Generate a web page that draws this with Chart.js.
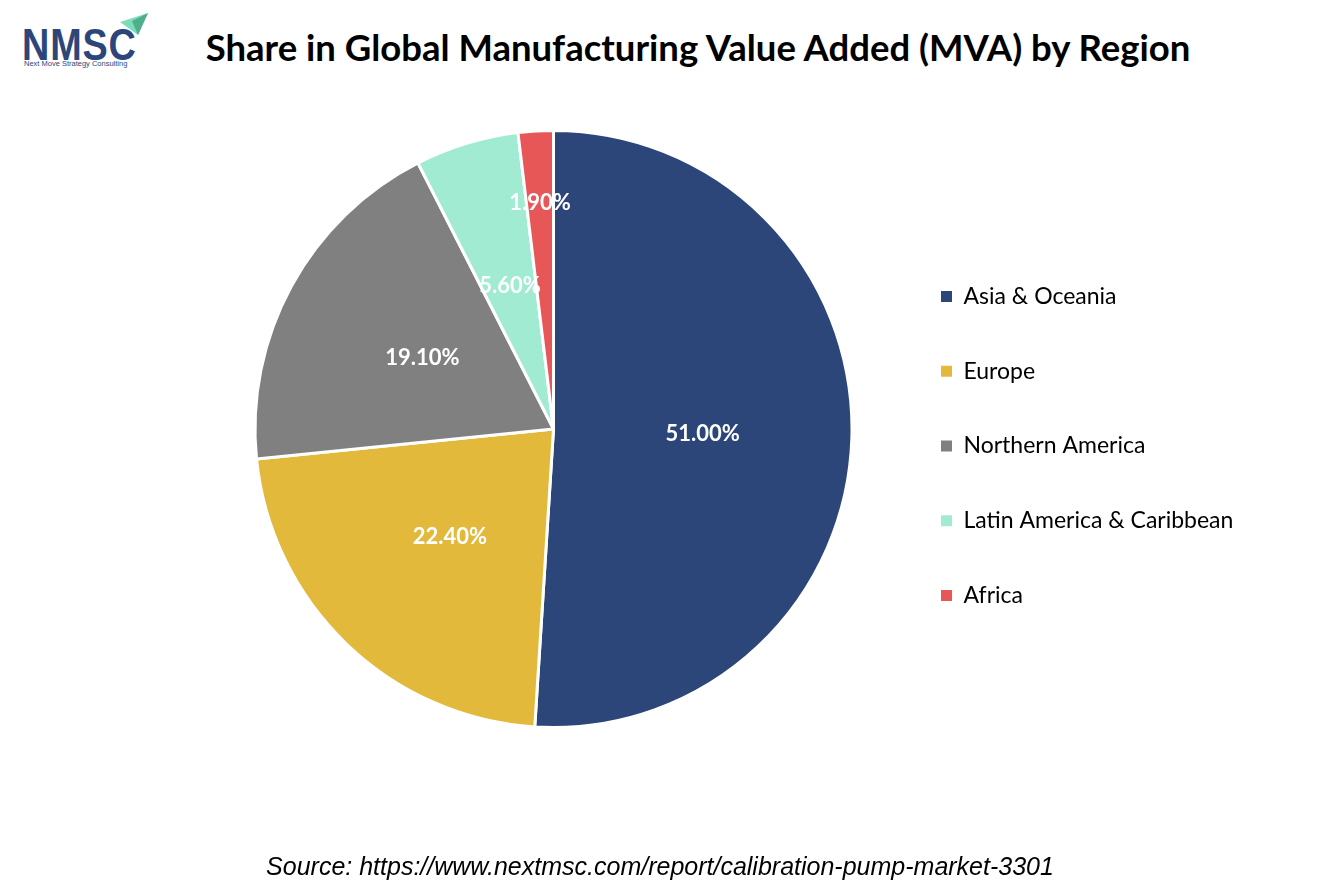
<!DOCTYPE html>
<html>
<head>
<meta charset="utf-8">
<script src="https://cdn.jsdelivr.net/npm/chart.js@4.4.1/dist/chart.umd.min.js"></script>
<style>
  html, body { margin: 0; padding: 0; background: #fff; }
  #page { position: relative; width: 1334px; height: 889px; overflow: hidden; }
  #chartBox { position: absolute; left: 0; top: 0; width: 1334px; height: 889px; }
  #title {
    position: absolute; left: 0; width: 1334px; top: 25px; text-align: center;
    font-family: Lato, sans-serif; font-weight: 700; font-size: 36.5px; color: #000;
    padding-left: 62px; box-sizing: border-box; white-space: nowrap;
  }
  #source {
    position: absolute; left: 0; width: 1320px; top: 852px; text-align: center;
    font-family: "Liberation Sans", Arial, sans-serif; font-style: italic; font-size: 25px; color: #000;
  }
  #logo { position: absolute; left: 20px; top: 10px; width: 140px; height: 60px; }
  #logo .mark {
    position: absolute; left: 2px; top: 12px; font-family: "Liberation Sans", Arial, sans-serif;
    font-weight: 700; font-size: 45px; line-height: 45px; color: #2c4679; letter-spacing: 1px;
    transform: scaleX(0.84); transform-origin: left top;
  }
  #logo .sub {
    position: absolute; left: 4px; top: 49px; font-family: "Liberation Sans", Arial, sans-serif;
    font-size: 7.5px; color: #2c4679; white-space: nowrap;
  }
  #logo svg { position: absolute; left: 0; top: 0; }
</style>
</head>
<body>
<div id="page">
  <div id="logo">
    <svg width="140" height="40">
      <polygon points="100,12 128,3 118,25" fill="#7fdcb9"/>
      <polygon points="112,11 128,3 118,25" fill="#4fae8c"/>
    </svg>
    <div class="mark">NMSC</div>
    <div class="sub">Next Move Strategy Consulting</div>
  </div>
  <div id="title">Share in Global Manufacturing Value Added (MVA) by Region</div>
  <div id="chartBox"><canvas id="mvaChart"></canvas></div>
  <div id="source">Source: https://www.nextmsc.com/report/calibration-pump-market-3301</div>
</div>
<script>
const regions = ['Asia & Oceania', 'Europe', 'Northern America', 'Latin America & Caribbean', 'Africa'];
const shares = [51.0, 22.4, 19.1, 5.6, 1.9];
const sliceColors = ['#2c4679', '#e2b93b', '#808080', '#a0ebd2', '#e85757'];

// where each percentage label sits, as a fraction of the radius
const labelRadius = [0.5, 0.5, 0.5, 0.5, 0.76];

const LEGEND_WIDTH = 444.75;

const legendSizer = {
    id: 'legendSizer',
    beforeInit(chart) {
        const legend = chart.legend;
        const origFit = legend.fit;
        legend.fit = function() {
            origFit.call(this);
            this.width = LEGEND_WIDTH;
        };
    },
    afterLayout(chart) {
        chart.legend.top += 17;
        chart.legend.bottom += 17;
    }
};

const sliceLabels = {
    id: 'sliceLabels',
    afterDatasetsDraw(chart) {
        const ctx = chart.ctx;
        const meta = chart.getDatasetMeta(0);
        ctx.save();
        ctx.font = '700 22px Lato, sans-serif';
        ctx.fillStyle = '#ffffff';
        ctx.textAlign = 'center';
        ctx.textBaseline = 'middle';
        meta.data.forEach((arc, i) => {
            const p = arc.getProps(['x', 'y', 'startAngle', 'endAngle', 'outerRadius'], true);
            const mid = (p.startAngle + p.endAngle) / 2;
            const r = p.outerRadius * labelRadius[i];
            ctx.fillText(shares[i].toFixed(2) + '%', p.x + Math.cos(mid) * r, p.y + Math.sin(mid) * r);
        });
        ctx.restore();
    }
};

document.addEventListener('DOMContentLoaded', function() {
    const ctx = document.getElementById('mvaChart').getContext('2d');

    new Chart(ctx, {
        type: 'pie',
        data: {
            labels: regions,
            datasets: [{
                data: shares,
                backgroundColor: sliceColors,
                borderColor: '#ffffff',
                borderWidth: 3
            }]
        },
        options: {
            responsive: true,
            maintainAspectRatio: false,
            animation: false,
            radius: 298.5,
            layout: {
                padding: { left: 217.75, right: 0, top: 129, bottom: 160 }
            },
            plugins: {
                tooltip: { enabled: false },
                legend: {
                    position: 'right',
                    labels: {
                        boxWidth: 11,
                        boxHeight: 11,
                        padding: 51.75,
                        color: '#000000',
                        font: { family: 'Lato, sans-serif', size: 23 },
                        generateLabels(chart) {
                            const items = Chart.overrides.pie.plugins.legend.labels.generateLabels(chart);
                            return items.map(item => Object.assign(item, { lineWidth: 0 }));
                        }
                    }
                }
            }
        },
        plugins: [legendSizer, sliceLabels]
    });
});
</script>
</body>
</html>
